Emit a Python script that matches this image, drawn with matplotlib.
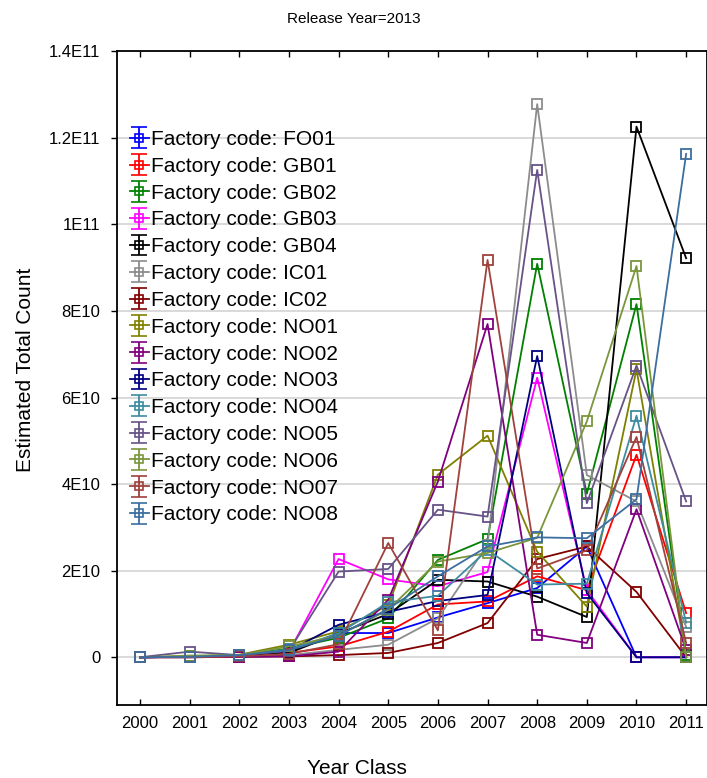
import matplotlib
matplotlib.use("Agg")
import matplotlib.pyplot as plt
import numpy as np

plt.rcParams['font.family'] = ['Liberation Sans', 'DejaVu Sans']

years = list(range(2000, 2012))
scale = 1e10  # values below are in units of 1E10

codes = ["FO01", "GB01", "GB02", "GB03", "GB04", "IC01", "IC02", "NO01",
         "NO02", "NO03", "NO04", "NO05", "NO06", "NO07", "NO08"]
colors = ["#0000ff", "#ff0000", "#008000", "#ff00ff", "#000000", "#8c8c8c",
          "#800000", "#808000", "#800080", "#000080", "#3d8ca0", "#675388",
          "#7a963c", "#a0413c", "#3c6ea0"]

FO01 = [0, 0.01, 0.04, 0.12, 0.56, 0.56, 0.92, 1.25, 1.60, 2.56, 0, 0]
GB01 = [0, 0.01, 0.03, 0.10, 0.25, 0.59, 1.22, 1.29, 1.87, 1.55, 4.68, 1.02]
GB02 = [0, 0.02, 0.05, 0.20, 0.45, 0.90, 2.25, 2.73, 9.09, 3.78, 8.16, 0.05]
GB03 = [0, 0.01, 0.04, 0.12, 2.27, 1.80, 1.64, 1.97, 6.46, 1.55, 0, 0]
GB04 = [0, 0.01, 0.03, 0.10, 0.55, 1.00, 1.79, 1.75, 1.40, 0.93, 12.26, 9.22]
IC01 = [0, 0.01, 0.02, 0.05, 0.17, 0.29, 0.90, 2.60, 12.78, 4.21, 3.60, 0.70]
IC02 = [0, 0.00, 0.01, 0.02, 0.05, 0.10, 0.33, 0.79, 2.27, 2.56, 1.51, 0]
NO01 = [0, 0.02, 0.06, 0.29, 0.60, 1.20, 4.22, 5.12, 2.44, 1.17, 6.65, 0]
NO02 = [0, 0.00, 0.01, 0.02, 0.13, 1.33, 4.06, 7.70, 0.52, 0.33, 3.42, 0.17]
NO03 = [0, 0.01, 0.04, 0.15, 0.75, 1.05, 1.30, 1.44, 6.96, 1.48, 0, 0]
NO04 = [0, 0.01, 0.05, 0.18, 0.55, 1.27, 1.42, 2.48, 1.68, 1.70, 5.58, 0.80]
NO05 = [0, 0.13, 0.05, 0.15, 1.98, 2.04, 3.41, 3.25, 11.26, 3.56, 6.74, 3.60]
NO06 = [0, 0.04, 0.05, 0.25, 0.50, 1.10, 2.21, 2.41, 2.76, 5.45, 9.04, 0]
NO07 = [0, 0.00, 0.02, 0.08, 0.30, 2.64, 0.62, 9.18, 2.05, 2.47, 5.09, 0.33]
NO08 = [0, 0.01, 0.05, 0.16, 0.50, 1.12, 1.87, 2.56, 2.77, 2.75, 3.65, 11.63]

series = [FO01, GB01, GB02, GB03, GB04, IC01, IC02, NO01,
          NO02, NO03, NO04, NO05, NO06, NO07, NO08]

yticks = [0, 2e10, 4e10, 6e10, 8e10, 1e11, 1.2e11, 1.4e11]
ytick_labels = ["0", "2E10", "4E10", "6E10", "8E10", "1E11", "1.2E11", "1.4E11"]

fig = plt.figure(figsize=(7.07, 7.78), dpi=100)
ax = fig.add_axes([0.1655, 0.094, 0.8345, 0.84])

for code, col, vals in zip(codes, colors, series):
    y = np.array(vals) * scale
    ax.plot(years, y, color=col, lw=1.3, marker='s', ms=7, mfc='none',
            mew=1.3, zorder=3)
    # proxy artist so the legend shows an error-bar style key
    ax.errorbar([np.nan], [np.nan], yerr=[1.0], color=col, lw=1.3,
                marker='s', ms=6, mfc='none', mew=1.2, capsize=6,
                capthick=1.3, label="Factory code: " + code)

ax.set_xlim(1999.537, 2011.42)
ax.set_ylim(-1.1e10, 1.4e11)
ax.set_xticks(years)
ax.set_xticklabels([str(y) for y in years], fontsize=12)
ax.set_yticks(yticks)
ax.set_yticklabels(ytick_labels, fontsize=12)

ax.yaxis.grid(True, color="#d3d3d3", lw=1.2, zorder=0)
ax.set_axisbelow(True)

for s in ax.spines.values():
    s.set_linewidth(1.3)

ax.tick_params(axis='x', which='both', direction='in', length=4, width=1,
               top=True, bottom=True, pad=8)
ax.tick_params(axis='y', which='both', direction='out', length=4, width=1,
               left=True, pad=8)
ax.tick_params(axis='y', right=True)

leg = ax.legend(loc='upper left', bbox_to_anchor=(130 / 707, 1 - 130 / 778),
                bbox_transform=fig.transFigure, frameon=False, fontsize=15,
                handlelength=0.9, handletextpad=0.1, labelspacing=0.375,
                borderpad=0, borderaxespad=0)

fig.text(0.5, 1 - 19 / 778, "Release Year=2013", ha='center', va='center',
         fontsize=11)
fig.text(0.505, 1 - 768 / 778, "Year Class", ha='center', va='center',
         fontsize=15)
fig.text(26 / 707, 1 - 370 / 778, "Estimated Total Count", ha='center',
         va='center', rotation=90, fontsize=15)

fig.savefig("out.png", dpi=100)
